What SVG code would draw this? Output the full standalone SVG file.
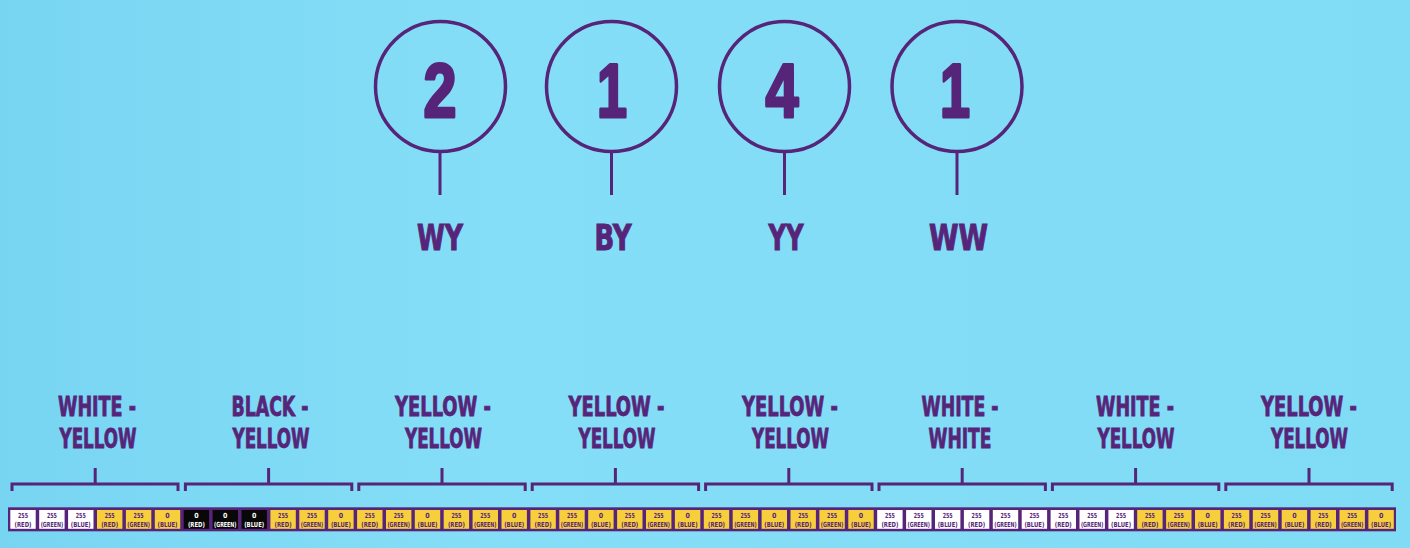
<svg xmlns="http://www.w3.org/2000/svg" xmlns:xlink="http://www.w3.org/1999/xlink" width="1410" height="548" viewBox="0 0 1410 548">
<style>
.ln{stroke:#56257a;stroke-width:3;fill:none;stroke-linecap:butt}
.circ{stroke:#56257a;stroke-width:3.5;fill:none}
.digit{font-family:"Liberation Sans",Arial,sans-serif;font-weight:bold;font-size:76px;fill:#56257a;stroke:#56257a;stroke-width:3.2;stroke-linejoin:round;text-anchor:middle}
.code{font-family:"DejaVu Sans Condensed","DejaVu Sans",sans-serif;font-weight:bold;font-size:36px;fill:#56257a;stroke:#56257a;stroke-width:1;text-anchor:middle}
.lab{font-family:"DejaVu Sans Condensed","DejaVu Sans",sans-serif;font-weight:bold;font-size:27px;fill:#56257a;stroke:#56257a;stroke-width:0.8;text-anchor:middle}
.ct{font-family:"DejaVu Sans Condensed","DejaVu Sans",sans-serif;font-weight:bold;font-size:7px;fill:#56257a;text-anchor:middle}
.ctw{font-family:"DejaVu Sans Condensed","DejaVu Sans",sans-serif;font-weight:bold;font-size:7px;fill:#ffffff;text-anchor:middle}
.cw{fill:#ffffff}
.cy{fill:#f7cf3c}
.ck{fill:#080808}
</style>
<defs>
<linearGradient id="bg" x1="0" y1="0" x2="1" y2="0">
<stop offset="0" stop-color="#78d5f2"/>
<stop offset="0.35" stop-color="#85def7"/>
<stop offset="1" stop-color="#80dbf5"/>
</linearGradient>
<g id="wR"><rect class="cw" width="25.4" height="18.8"/><text class="ct" x="12.7" y="8" textLength="10" lengthAdjust="spacingAndGlyphs">255</text><text class="ct" x="12.7" y="16.8" textLength="17" lengthAdjust="spacingAndGlyphs">(RED)</text></g>
<g id="wG"><rect class="cw" width="25.4" height="18.8"/><text class="ct" x="12.7" y="8" textLength="10" lengthAdjust="spacingAndGlyphs">255</text><text class="ct" x="12.7" y="16.8" textLength="22.5" lengthAdjust="spacingAndGlyphs">(GREEN)</text></g>
<g id="wB"><rect class="cw" width="25.4" height="18.8"/><text class="ct" x="12.7" y="8" textLength="10" lengthAdjust="spacingAndGlyphs">255</text><text class="ct" x="12.7" y="16.8" textLength="20" lengthAdjust="spacingAndGlyphs">(BLUE)</text></g>
<g id="yR"><rect class="cy" width="25.4" height="18.8"/><text class="ct" x="12.7" y="8" textLength="10" lengthAdjust="spacingAndGlyphs">255</text><text class="ct" x="12.7" y="16.8" textLength="17" lengthAdjust="spacingAndGlyphs">(RED)</text></g>
<g id="yG"><rect class="cy" width="25.4" height="18.8"/><text class="ct" x="12.7" y="8" textLength="10" lengthAdjust="spacingAndGlyphs">255</text><text class="ct" x="12.7" y="16.8" textLength="22.5" lengthAdjust="spacingAndGlyphs">(GREEN)</text></g>
<g id="yB"><rect class="cy" width="25.4" height="18.8"/><text class="ct" x="12.7" y="8">0</text><text class="ct" x="12.7" y="16.8" textLength="20" lengthAdjust="spacingAndGlyphs">(BLUE)</text></g>
<g id="kR"><rect class="ck" width="25.4" height="18.8"/><text class="ctw" x="12.7" y="8">0</text><text class="ctw" x="12.7" y="16.8" textLength="17" lengthAdjust="spacingAndGlyphs">(RED)</text></g>
<g id="kG"><rect class="ck" width="25.4" height="18.8"/><text class="ctw" x="12.7" y="8">0</text><text class="ctw" x="12.7" y="16.8" textLength="22.5" lengthAdjust="spacingAndGlyphs">(GREEN)</text></g>
<g id="kB"><rect class="ck" width="25.4" height="18.8"/><text class="ctw" x="12.7" y="8">0</text><text class="ctw" x="12.7" y="16.8" textLength="20" lengthAdjust="spacingAndGlyphs">(BLUE)</text></g>
</defs>
<rect width="1410" height="548" fill="url(#bg)"/>

<g id="circle-2">
<circle class="circ" cx="440.5" cy="86.5" r="65"/>
<text class="digit" x="440" y="116.5" textLength="33" lengthAdjust="spacingAndGlyphs">2</text>
<text class="code" x="440" y="249.5" textLength="46" lengthAdjust="spacingAndGlyphs">WY</text>
</g>
<g id="circle-1a">
<circle class="circ" cx="611.5" cy="86.5" r="65"/>
<text class="digit" x="612" y="116.5" textLength="30" lengthAdjust="spacingAndGlyphs">1</text>
<text class="code" x="613" y="249.5" textLength="37" lengthAdjust="spacingAndGlyphs">BY</text>
</g>
<g id="circle-4">
<circle class="circ" cx="784.5" cy="86.5" r="65"/>
<text class="digit" x="782" y="116.5" textLength="33" lengthAdjust="spacingAndGlyphs">4</text>
<text class="code" x="786" y="249.5" textLength="35" lengthAdjust="spacingAndGlyphs">YY</text>
</g>
<g id="circle-1b">
<circle class="circ" cx="957" cy="86.5" r="65"/>
<text class="digit" x="955" y="116.5" textLength="30" lengthAdjust="spacingAndGlyphs">1</text>
<text class="code" x="958.5" y="249.5" textLength="59" lengthAdjust="spacingAndGlyphs">WW</text>
</g>

<g id="connectors">
<line class="ln" x1="440" y1="152" x2="440" y2="195"/>
<line class="ln" x1="611.5" y1="152" x2="611.5" y2="195"/>
<line class="ln" x1="784.5" y1="152" x2="784.5" y2="195"/>
<line class="ln" x1="957" y1="152" x2="957" y2="195"/>
<path class="ln" d="M12,491 V484 H178 V491 M95.2,484 V468"/>
<path class="ln" d="M185.4,491 V484 H351.8 V491 M268.6,484 V468"/>
<path class="ln" d="M358.8,491 V484 H525.2 V491 M442,484 V468"/>
<path class="ln" d="M532.2,491 V484 H698.6 V491 M615.4,484 V468"/>
<path class="ln" d="M705.6,491 V484 H872 V491 M788.8,484 V468"/>
<path class="ln" d="M879,491 V484 H1045.4 V491 M962.2,484 V468"/>
<path class="ln" d="M1052.4,491 V484 H1218.8 V491 M1135.6,484 V468"/>
<path class="ln" d="M1225.8,491 V484 H1392.2 V491 M1309,484 V468"/>
</g>

<g id="labels">
<g id="label-1"><text class="lab" x="97" y="415.5" textLength="78" lengthAdjust="spacingAndGlyphs">WHITE -</text><text class="lab" x="98" y="447.5" textLength="77" lengthAdjust="spacingAndGlyphs">YELLOW</text></g>
<g id="label-2"><text class="lab" x="270" y="415.5" textLength="77" lengthAdjust="spacingAndGlyphs">BLACK -</text><text class="lab" x="271" y="447.5" textLength="77" lengthAdjust="spacingAndGlyphs">YELLOW</text></g>
<g id="label-3"><text class="lab" x="443" y="415.5" textLength="96" lengthAdjust="spacingAndGlyphs">YELLOW -</text><text class="lab" x="443.5" y="447.5" textLength="77" lengthAdjust="spacingAndGlyphs">YELLOW</text></g>
<g id="label-4"><text class="lab" x="616.5" y="415.5" textLength="96" lengthAdjust="spacingAndGlyphs">YELLOW -</text><text class="lab" x="617" y="447.5" textLength="77" lengthAdjust="spacingAndGlyphs">YELLOW</text></g>
<g id="label-5"><text class="lab" x="790" y="415.5" textLength="96" lengthAdjust="spacingAndGlyphs">YELLOW -</text><text class="lab" x="790.5" y="447.5" textLength="77" lengthAdjust="spacingAndGlyphs">YELLOW</text></g>
<g id="label-6"><text class="lab" x="960" y="415.5" textLength="77" lengthAdjust="spacingAndGlyphs">WHITE -</text><text class="lab" x="960" y="447.5" textLength="63" lengthAdjust="spacingAndGlyphs">WHITE</text></g>
<g id="label-7"><text class="lab" x="1135" y="415.5" textLength="78" lengthAdjust="spacingAndGlyphs">WHITE -</text><text class="lab" x="1136" y="447.5" textLength="77" lengthAdjust="spacingAndGlyphs">YELLOW</text></g>
<g id="label-8"><text class="lab" x="1309" y="415.5" textLength="96" lengthAdjust="spacingAndGlyphs">YELLOW -</text><text class="lab" x="1309.5" y="447.5" textLength="77" lengthAdjust="spacingAndGlyphs">YELLOW</text></g>
</g>

<g id="strip">
<rect x="8" y="507.3" width="1388" height="24" fill="#56257a"/>
<g id="pixels-1">
<use xlink:href="#wR" x="10.3" y="510"/><use xlink:href="#wG" x="39.2" y="510"/><use xlink:href="#wB" x="68.1" y="510"/>
<use xlink:href="#yR" x="97" y="510"/><use xlink:href="#yG" x="125.9" y="510"/><use xlink:href="#yB" x="154.8" y="510"/>
</g>
<g id="pixels-2">
<use xlink:href="#kR" x="183.7" y="510"/><use xlink:href="#kG" x="212.6" y="510"/><use xlink:href="#kB" x="241.5" y="510"/>
<use xlink:href="#yR" x="270.4" y="510"/><use xlink:href="#yG" x="299.3" y="510"/><use xlink:href="#yB" x="328.2" y="510"/>
</g>
<g id="pixels-3">
<use xlink:href="#yR" x="357.1" y="510"/><use xlink:href="#yG" x="386" y="510"/><use xlink:href="#yB" x="414.8" y="510"/>
<use xlink:href="#yR" x="443.7" y="510"/><use xlink:href="#yG" x="472.6" y="510"/><use xlink:href="#yB" x="501.5" y="510"/>
</g>
<g id="pixels-4">
<use xlink:href="#yR" x="530.4" y="510"/><use xlink:href="#yG" x="559.3" y="510"/><use xlink:href="#yB" x="588.2" y="510"/>
<use xlink:href="#yR" x="617.1" y="510"/><use xlink:href="#yG" x="646" y="510"/><use xlink:href="#yB" x="674.9" y="510"/>
</g>
<g id="pixels-5">
<use xlink:href="#yR" x="703.8" y="510"/><use xlink:href="#yG" x="732.7" y="510"/><use xlink:href="#yB" x="761.6" y="510"/>
<use xlink:href="#yR" x="790.5" y="510"/><use xlink:href="#yG" x="819.4" y="510"/><use xlink:href="#yB" x="848.3" y="510"/>
</g>
<g id="pixels-6">
<use xlink:href="#wR" x="877.2" y="510"/><use xlink:href="#wG" x="906.1" y="510"/><use xlink:href="#wB" x="935" y="510"/>
<use xlink:href="#wR" x="963.9" y="510"/><use xlink:href="#wG" x="992.8" y="510"/><use xlink:href="#wB" x="1021.7" y="510"/>
</g>
<g id="pixels-7">
<use xlink:href="#wR" x="1050.6" y="510"/><use xlink:href="#wG" x="1079.5" y="510"/><use xlink:href="#wB" x="1108.4" y="510"/>
<use xlink:href="#yR" x="1137.2" y="510"/><use xlink:href="#yG" x="1166.1" y="510"/><use xlink:href="#yB" x="1195" y="510"/>
</g>
<g id="pixels-8">
<use xlink:href="#yR" x="1223.9" y="510"/><use xlink:href="#yG" x="1252.8" y="510"/><use xlink:href="#yB" x="1281.7" y="510"/>
<use xlink:href="#yR" x="1310.6" y="510"/><use xlink:href="#yG" x="1339.5" y="510"/><use xlink:href="#yB" x="1368.4" y="510"/>
</g>
</g>
</svg>
